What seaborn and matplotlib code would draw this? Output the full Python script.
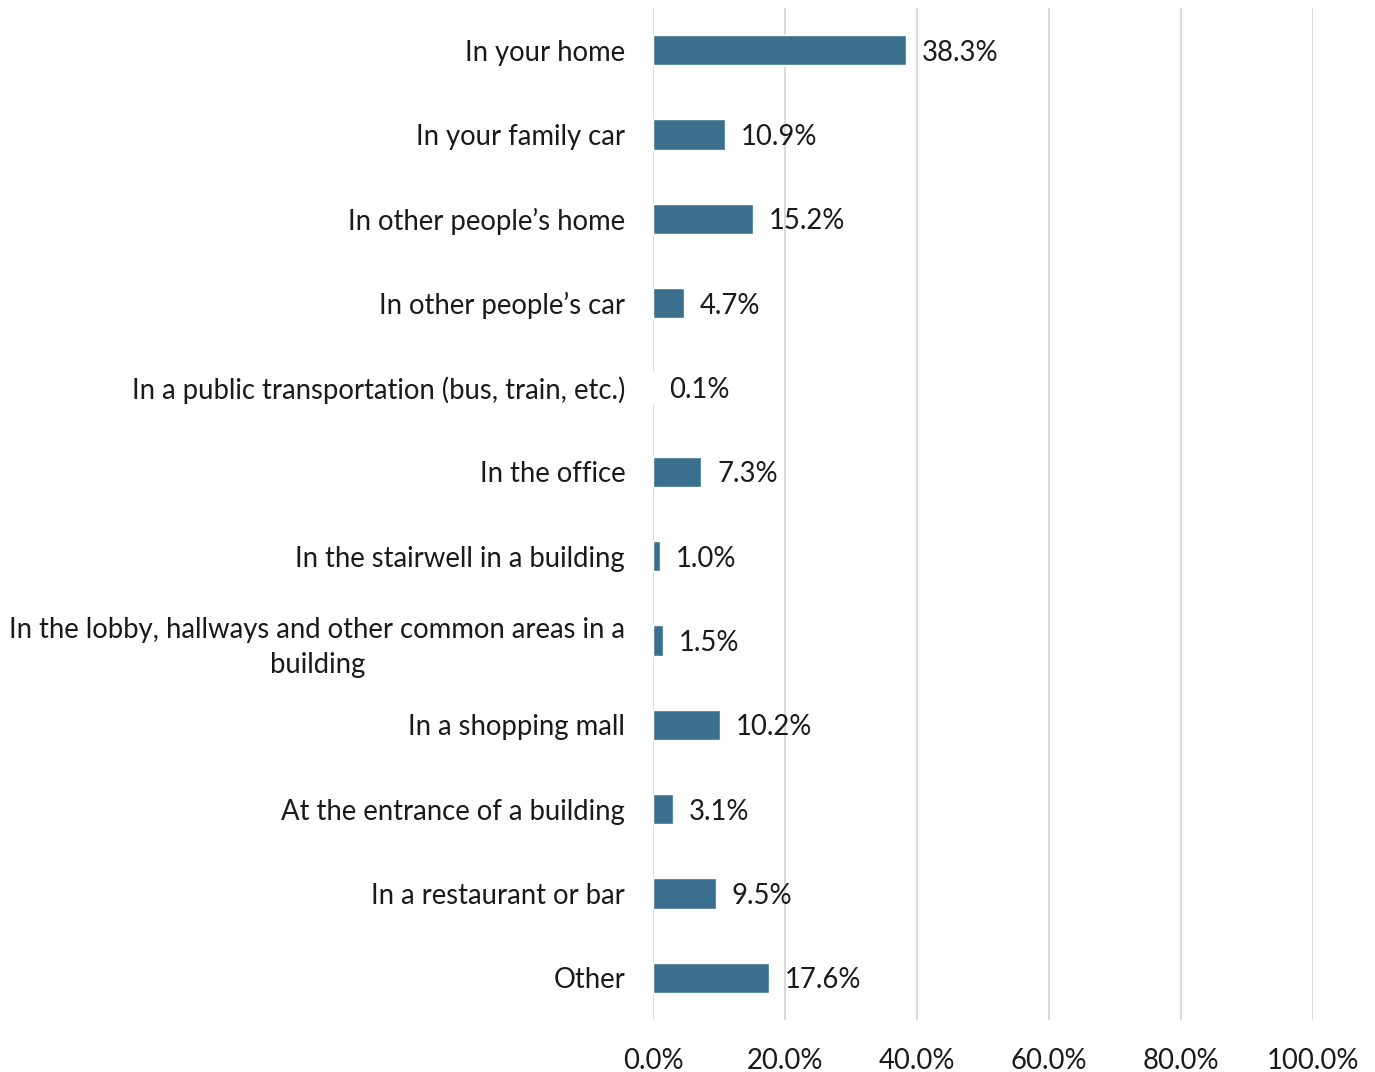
import numpy as np
import pandas as pd
import seaborn as sns
import matplotlib.pyplot as plt

locations = [
    "In your home",
    "In your family car",
    "In other people\u2019s home",
    "In other people\u2019s car",
    "In a public transportation (bus, train, etc.)",
    "In the office",
    "In the stairwell in a building",
    "In the lobby, hallways and other common areas in a\nbuilding",
    "In a shopping mall",
    "At the entrance of a building",
    "In a restaurant or bar",
    "Other",
]
shares = [38.3, 10.9, 15.2, 4.7, 0.1, 7.3, 1.0, 1.5, 10.2, 3.1, 9.5, 17.6]
xticks = [0, 20, 40, 60, 80, 100]

sns.set_style("white")
plt.rcParams["font.family"] = ["Lato", "DejaVu Sans"]

df = pd.DataFrame({"location": locations, "share": shares})

fig = plt.figure(figsize=(13.75, 10.72), dpi=100)
ax = fig.add_axes([0.4749, 0.0485, 0.48, 0.944])

sns.barplot(data=df, x="share", y="location", orient="h", color="#3A708D",
            saturation=1, width=0.36, ax=ax, zorder=3)

fs = 19.8
ax.set_xlim(0, 100)
ax.set_xticks(xticks)
ax.set_xticklabels([f"{t:.1f}%" for t in xticks], fontsize=fs)
ax.tick_params(axis="x", length=0, pad=20, colors="#1a1a1a")
ax.tick_params(axis="y", length=0, pad=20, labelsize=fs, colors="#1a1a1a")
for lbl in ax.get_yticklabels():
    lbl.set_multialignment("center")
    lbl.set_linespacing(1.45)
ax.grid(axis="x", color="#D9D9D9", linewidth=1.4, zorder=0)
ax.set_axisbelow(True)
for s in ax.spines.values():
    s.set_visible(False)
ax.set_xlabel("")
ax.set_ylabel("")

for i, v in enumerate(shares):
    ax.text(v + 2.4, i + 0.03, f"{v:.1f}%", va="center", ha="left", fontsize=fs,
            color="#1a1a1a")

fig.savefig("out.png", dpi=100)
